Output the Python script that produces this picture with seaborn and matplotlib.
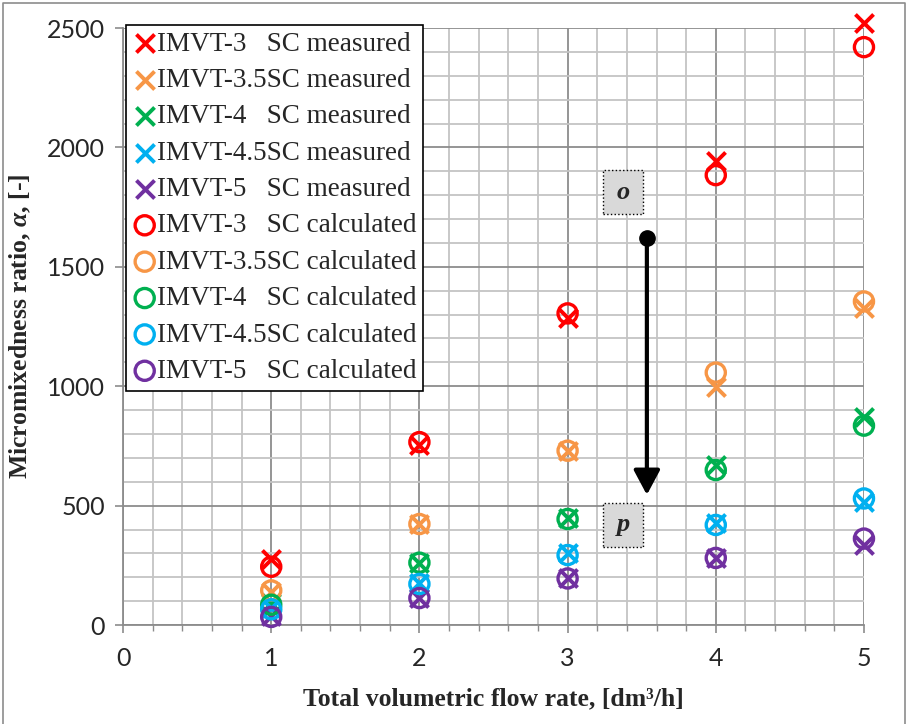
import numpy as np
import pandas as pd
import matplotlib
matplotlib.use("Agg")
import matplotlib.pyplot as plt
import matplotlib.patches as mpatches
from matplotlib.ticker import MultipleLocator
import seaborn as sns

# data
flow = [1, 2, 3, 4, 5]
reactors = ["IMVT-3   SC", "IMVT-3.5SC", "IMVT-4   SC", "IMVT-4.5SC", "IMVT-5   SC"]
colors = ["#FF0000", "#F79646", "#00B050", "#00B0F0", "#7030A0"]

meas_3 = [276, 752, 1284, 1945, 2520]
meas_35 = [140, 423, 730, 998, 1327]
meas_4 = [91, 261, 447, 670, 872]
meas_45 = [70, 176, 300, 427, 516]
meas_5 = [38, 113, 195, 281, 337]

calc_3 = [244, 766, 1305, 1884, 2420]
calc_35 = [145, 423, 730, 1057, 1355]
calc_4 = [85, 261, 444, 649, 835]
calc_45 = [66, 172, 293, 419, 530]
calc_5 = [34, 113, 195, 281, 362]

measured = [meas_3, meas_35, meas_4, meas_45, meas_5]
calculated = [calc_3, calc_35, calc_4, calc_45, calc_5]

sns.set_style("white")
plt.rcParams["font.family"] = ["Lato", "DejaVu Sans"]
plt.rcParams["mathtext.fontset"] = "custom"
plt.rcParams["mathtext.it"] = "Liberation Serif:bold:italic"
plt.rcParams["mathtext.rm"] = "Liberation Serif:bold"

fig = plt.figure(figsize=(9.08, 7.24), dpi=100)
ax = fig.add_axes([0.1355, 0.1367, 0.816, 0.8246])

for name, vals, c in zip(reactors, measured, colors):
    sns.scatterplot(x=flow, y=vals, marker="x", color=c, s=170, linewidth=2.8,
                    label=name + " measured", ax=ax, zorder=4, clip_on=False)
for name, vals, c in zip(reactors, calculated, colors):
    sns.scatterplot(x=flow, y=vals, marker="o", facecolor="none", edgecolor=c,
                    s=190, linewidth=2.4, label=name + " calculated", ax=ax,
                    zorder=4, clip_on=False)

ax.set_xlim(0, 5)
ax.set_ylim(0, 2500)
ax.xaxis.set_major_locator(MultipleLocator(1))
ax.xaxis.set_minor_locator(MultipleLocator(0.2))
ax.yaxis.set_major_locator(MultipleLocator(500))
ax.yaxis.set_minor_locator(MultipleLocator(100))
ax.grid(which="major", color="#8C8C8C", linewidth=1.3)
ax.grid(which="minor", color="#C4C4C4", linewidth=1.3)
ax.set_axisbelow(True)
for s in ["top", "right"]:
    ax.spines[s].set_visible(False)
for s in ["left", "bottom"]:
    ax.spines[s].set_color("#8C8C8C")
    ax.spines[s].set_linewidth(1.3)
ax.tick_params(which="major", direction="out", length=6, width=1.2, color="#8C8C8C",
               labelsize=18, pad=7)
ax.tick_params(axis="x", which="minor", direction="out", length=4, width=1.0,
               color="#8C8C8C", bottom=True)
ax.tick_params(axis="x", which="major", pad=10, bottom=True)
ax.tick_params(axis="y", which="major", left=True)

serif_bold = dict(family="Liberation Serif", weight="bold", size=18.5)
ax.set_xlabel("Total volumetric flow rate, [dm³/h]", fontdict=serif_bold, labelpad=12)
ax.set_ylabel(r"Micromixedness ratio, $\alpha$, [-]", fontdict=serif_bold, labelpad=10)

# legend, all measured first then calculated
leg = ax.legend(loc="upper left", bbox_to_anchor=(0.0, 1.01), borderaxespad=0.1,
                prop=dict(family="Liberation Serif", size=19.5), frameon=True,
                fancybox=False, edgecolor="black", framealpha=1,
                handletextpad=0.0, handlelength=0.9, labelspacing=0.42,
                borderpad=0.25)
leg.get_frame().set_linewidth(1.2)
leg.set_zorder(6)

# the o -> p annotation
for lab, (bx, by) in zip(["o", "p"], [(3.24, 1721), (3.24, 327)]):
    ax.add_patch(mpatches.Rectangle((bx, by), 0.27, 184, facecolor="#D9D9D9",
                                    edgecolor="black", linestyle=":", linewidth=1.0,
                                    zorder=5))
    ax.text(bx + 0.135, by + 92, lab, ha="center", va="center", zorder=6,
            family="Liberation Serif", style="italic", weight="bold", size=19)
ax.annotate("", xy=(3.535, 545), xytext=(3.535, 1620),
            arrowprops=dict(arrowstyle="-|>,head_length=1.5,head_width=0.8",
                            color="black", lw=3, shrinkA=0, shrinkB=0), zorder=6)
ax.plot([3.535], [1620], "o", color="black", markersize=11, zorder=7)

# chart area border
fig.add_artist(plt.Line2D([0.0035, 0.0035, 0.9965, 0.9965], [0.0, 0.996, 0.996, 0.0],
                          transform=fig.transFigure, color="#8C8C8C", linewidth=1.2))

fig.savefig("out.png", dpi=100)
